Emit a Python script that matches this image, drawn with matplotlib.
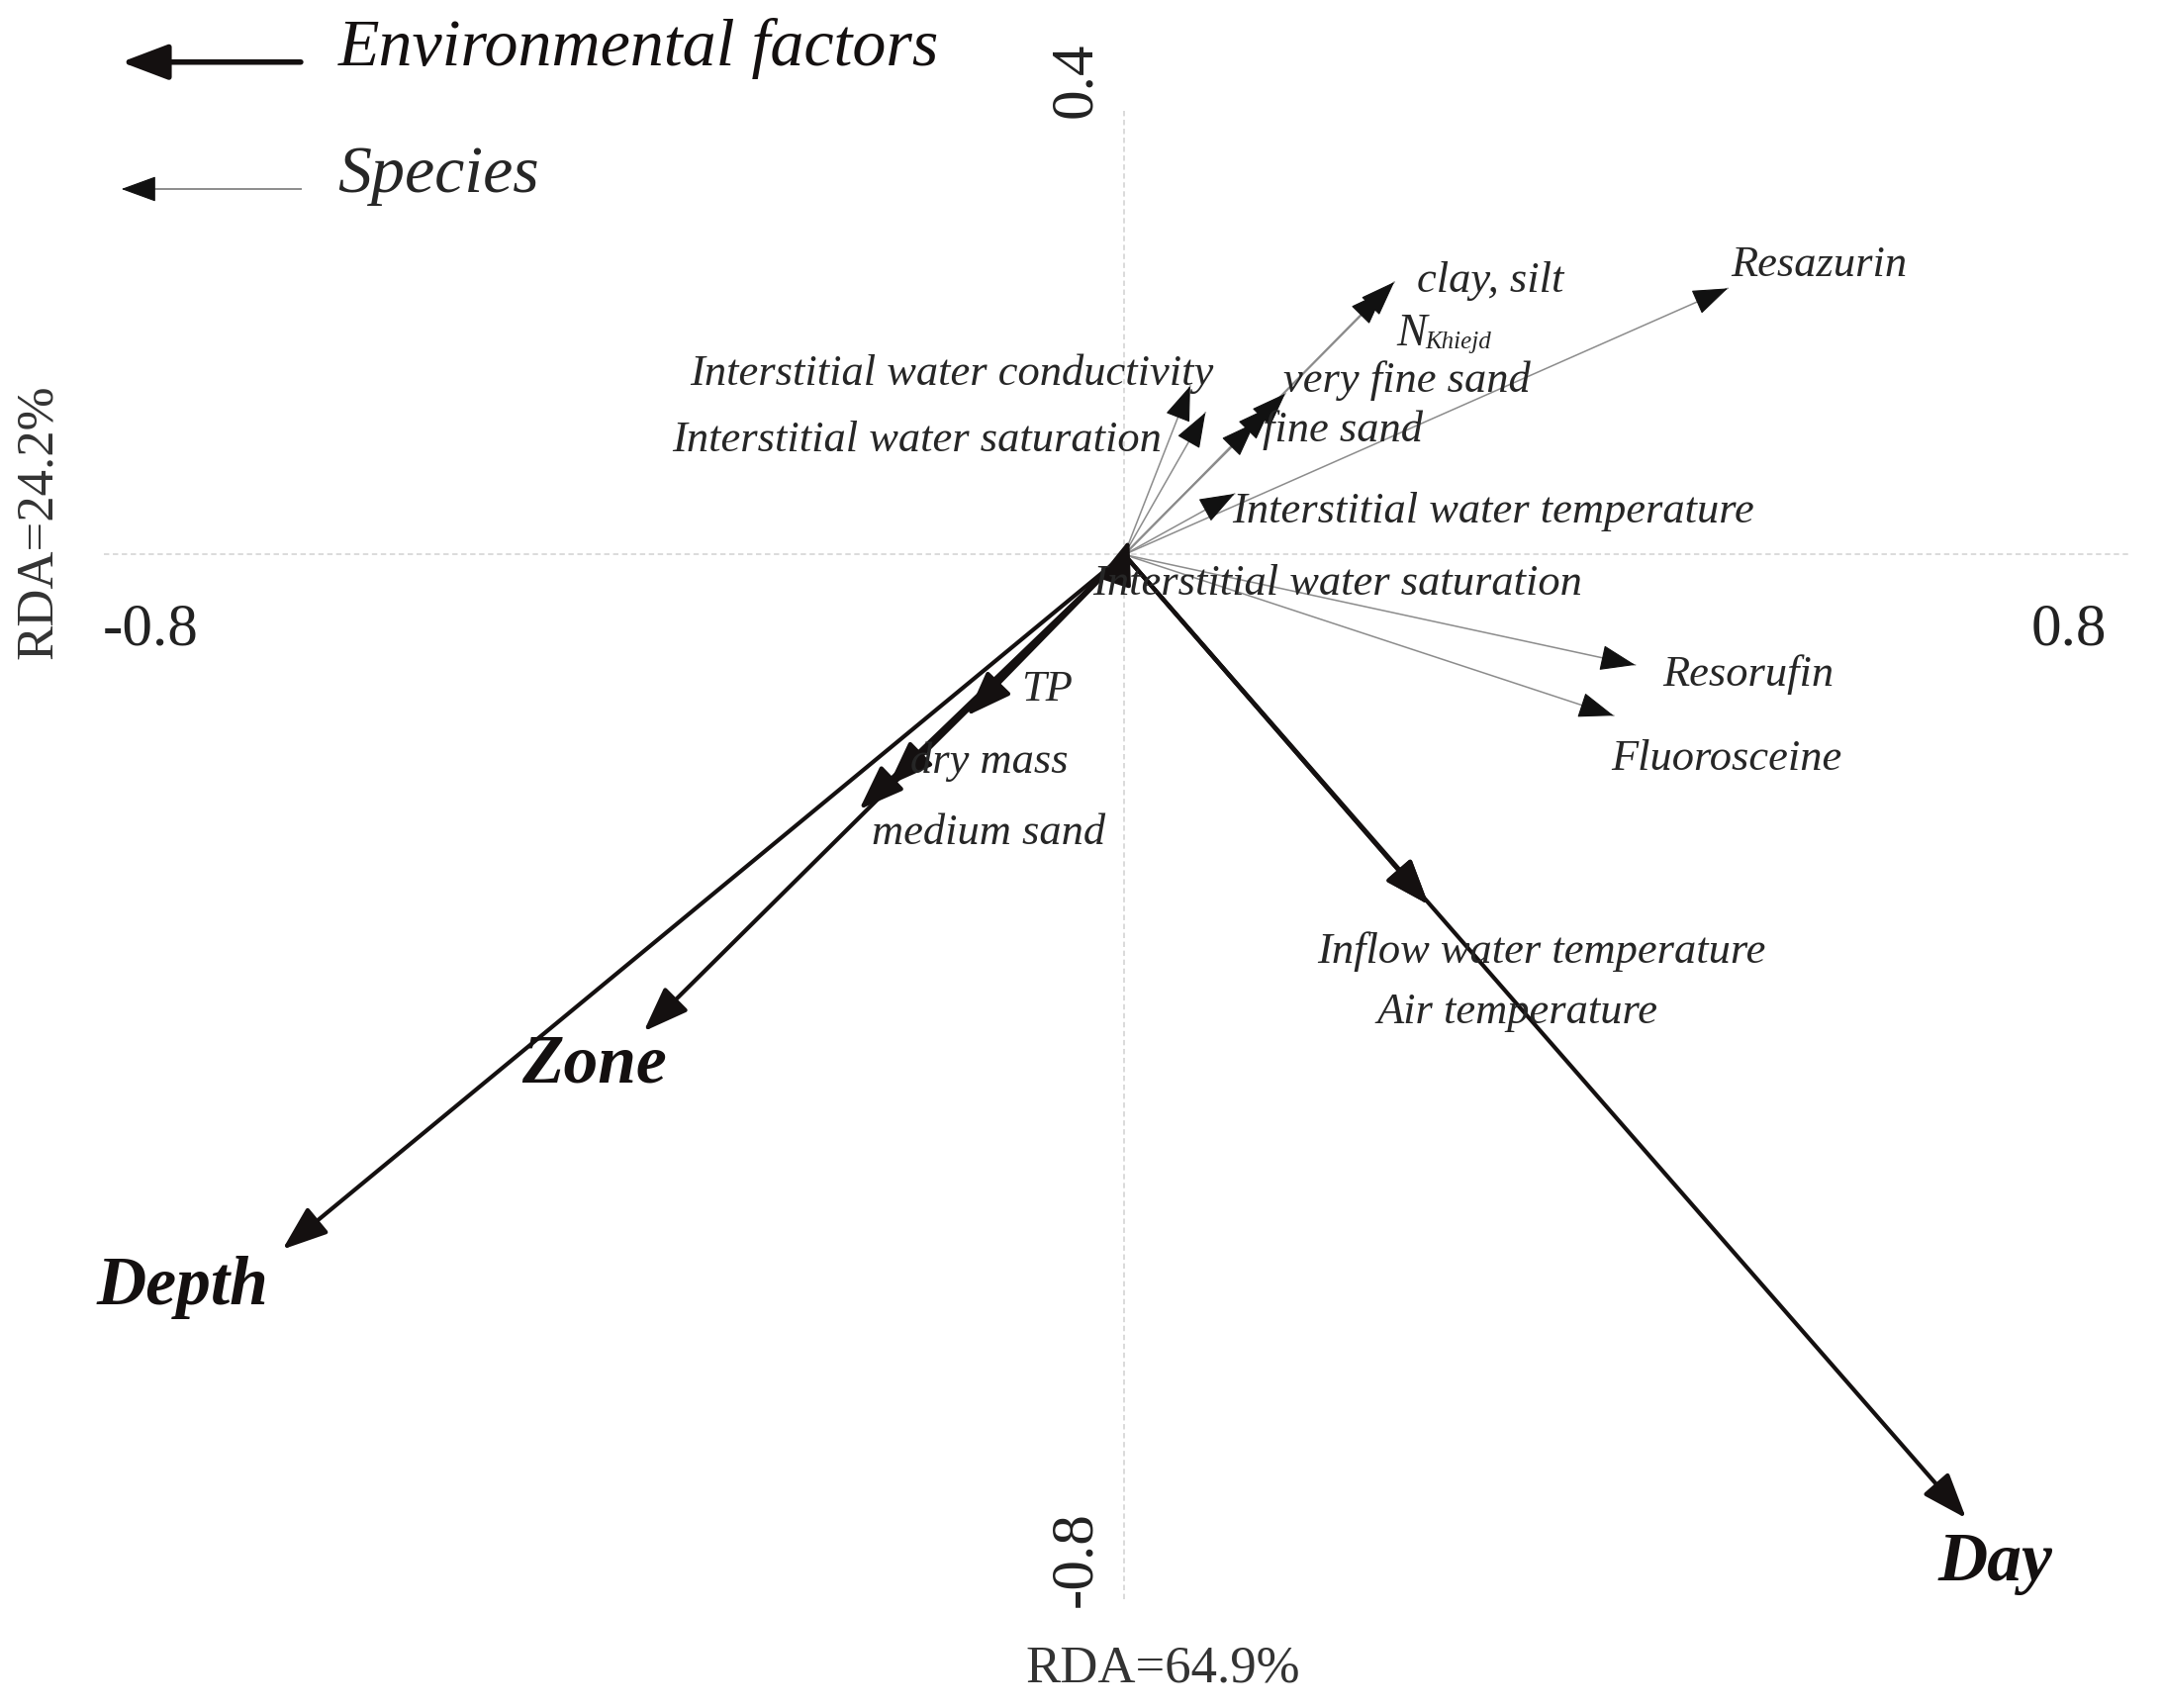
import numpy as np
import matplotlib
matplotlib.use("Agg")
import matplotlib.pyplot as plt

# ---------------- data ----------------
env_names = ["Depth", "Zone", "Day", "TP", "dry mass", "medium sand",
             "Inflow water temperature", "Air temperature",
             "Interstitial water saturation"]
env_x = [-0.664, -0.379, 0.664, -0.124, -0.186, -0.209, 0.240, 0.240, 0.004]
env_y = [-0.548, -0.376, -0.760, -0.127, -0.182, -0.201, -0.276, -0.276, 0.012]

sp_names = ["Resazurin", "clay, silt", "NKhiejd", "very fine sand", "fine sand (2)",
            "fine sand", "Interstitial water conductivity",
            "Interstitial water saturation", "Interstitial water temperature",
            "Resorufin", "Fluorosceine"]
sp_x = [0.476, 0.213, 0.205, 0.127, 0.116, 0.103, 0.052, 0.064, 0.087, 0.403, 0.386]
sp_y = [0.210, 0.215, 0.208, 0.127, 0.117, 0.104, 0.133, 0.112, 0.048, -0.087, -0.127]

axis_ticks = ["-0.8", "0.8", "0.4", "-0.8"]
axis_titles = ["RDA=64.9%", "RDA=24.2%"]

# ---------------- layout helpers ----------------
UNIT = 919.0          # display px (1568-wide reference) per unit
OX, OY = 815.0, 402.0  # origin in display px


def P(px, py):
    return ((px - OX) / UNIT, (OY - py) / UNIT)


fig = plt.figure(figsize=(21.86, 17.26), dpi=100)
ax = fig.add_axes([0, 0, 1, 1])
x0, y1 = P(0, 0)
x1, y0 = P(1568, 1238)
ax.set_xlim(x0, x1)
ax.set_ylim(y0, y1)
ax.set_axis_off()

SERIF = ["Liberation Serif", "DejaVu Serif"]

# dashed axis lines
ax.plot([P(75, 0)[0], P(1545, 0)[0]], [0, 0], color="#d8d8d8", lw=1.3,
        ls=(0, (3, 2)), zorder=1)
ax.plot([0, 0], [P(0, 80)[1], P(0, 1160)[1]], color="#d8d8d8", lw=1.3,
        ls=(0, (3, 2)), zorder=1)

# species arrows: thin gray shaft, black head
for x, y in zip(sp_x, sp_y):
    ax.plot([0, x], [0, y], color="#8c8c8c", lw=1.1, zorder=2)
    L = np.hypot(x, y)
    ux, uy = x / L, y / L
    ax.annotate("", xy=(x, y), xytext=(x - 0.02 * ux, y - 0.02 * uy),
                arrowprops=dict(arrowstyle="-|>,head_length=1.15,head_width=0.42",
                                color="#111111", lw=0.8, mutation_scale=20,
                                shrinkA=0, shrinkB=0), zorder=4)

# environmental arrows: thick black
for x, y in zip(env_x, env_y):
    ax.annotate("", xy=(x, y), xytext=(0, 0),
                arrowprops=dict(arrowstyle="-|>,head_length=1.4,head_width=0.52",
                                color="#141010", lw=3.0, mutation_scale=20,
                                shrinkA=0, shrinkB=0), zorder=3)

# species labels
sp_fs = 32
tc = "#262626"
sp_labels = [
    ("Resazurin", 1255, 192),
    ("clay, silt", 1027, 204),
    ("very fine sand", 930, 276),
    ("fine sand", 915, 312),
    ("Interstitial water conductivity", 500, 271),
    ("Interstitial water saturation", 487, 319),
    ("Interstitial water temperature", 893, 371),
    ("Resorufin", 1205, 489),
    ("Fluorosceine", 1168, 550),
]
for t, px, py in sp_labels:
    ax.text(*P(px, py), t, family=SERIF, style="italic", fontsize=sp_fs,
            color=tc, ha="left", va="center", zorder=5)

# N_Khiejd
ax.text(*P(1012, 242), "N", family=SERIF, style="italic", fontsize=33,
        color=tc, ha="left", va="center", zorder=5)
ax.text(*P(1033, 248), "Khiejd", family=SERIF, style="italic", fontsize=18,
        color=tc, ha="left", va="center", zorder=5)

# env small labels
env_small = [
    ("Interstitial water saturation", 792, 423),
    ("TP", 740, 500),
    ("dry mass", 660, 552),
    ("medium sand", 632, 604),
    ("Inflow water temperature", 955, 690),
    ("Air temperature", 998, 734),
]
for t, px, py in env_small:
    ax.text(*P(px, py), t, family=SERIF, style="italic", fontsize=sp_fs,
            color=tc, ha="left", va="center", zorder=5)

# env big labels
for t, px, py in [("Zone", 378, 772), ("Depth", 70, 933), ("Day", 1405, 1133)]:
    ax.text(*P(px, py), t, family=SERIF, style="italic", weight="bold",
            fontsize=50, color="#141010", ha="left", va="center", zorder=5)

# tick labels
ax.text(*P(109, 457), axis_ticks[0], family=SERIF, fontsize=44, color="#222",
        ha="center", va="center")
ax.text(*P(1500, 457), axis_ticks[1], family=SERIF, fontsize=44, color="#222",
        ha="center", va="center")
ax.text(*P(780, 58), axis_ticks[2], family=SERIF, fontsize=44, color="#222",
        ha="center", va="center", rotation=90)
ax.text(*P(780, 1130), axis_ticks[3], family=SERIF, fontsize=44, color="#222",
        ha="center", va="center", rotation=90)

# axis titles
ax.text(*P(843, 1210), axis_titles[0], family=SERIF, fontsize=38, color="#333",
        ha="center", va="center")
ax.text(*P(28, 378), axis_titles[1], family=SERIF, fontsize=38, color="#333",
        ha="center", va="center", rotation=90)

# legend
lx0, ly0 = P(218, 45)
lx1, _ = P(88, 45)
ax.annotate("", xy=(lx1, ly0), xytext=(lx0, ly0),
            arrowprops=dict(arrowstyle="-|>,head_length=1.45,head_width=0.55",
                            color="#141010", lw=4.0, mutation_scale=20,
                            shrinkA=0, shrinkB=0))
ax.text(*P(245, 35), "Environmental factors", family=SERIF, style="italic",
        fontsize=49, color="#141010", ha="left", va="center")

sx0, sy0 = P(218, 137)
sx1, _ = P(88, 137)
ax.plot([sx0, sx1 + 0.02], [sy0, sy0], color="#8c8c8c", lw=1.4)
ax.annotate("", xy=(sx1, sy0), xytext=(sx1 + 0.02, sy0),
            arrowprops=dict(arrowstyle="-|>,head_length=1.15,head_width=0.42",
                            color="#111111", lw=0.8, mutation_scale=20,
                            shrinkA=0, shrinkB=0))
ax.text(*P(245, 127), "Species", family=SERIF, style="italic",
        fontsize=49, color="#262626", ha="left", va="center")

fig.savefig("out.png", dpi=100, facecolor="white")
